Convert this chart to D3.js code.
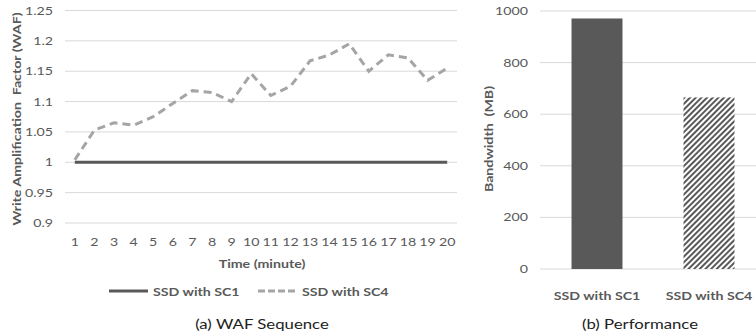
<!DOCTYPE html>
<html><head><meta charset="utf-8">
<script src="https://cdn.jsdelivr.net/npm/d3@7"></script>
<style>body{margin:0;background:#fff}svg{display:block}text{font-family:Lato,"Open Sans",sans-serif;white-space:pre}</style>
</head><body>
<svg id="c" width="756" height="336"></svg>
<script>
const minutes = [1,2,3,4,5,6,7,8,9,10,11,12,13,14,15,16,17,18,19,20];
const wafSC1 = [1,1,1,1,1,1,1,1,1,1,1,1,1,1,1,1,1,1,1,1];
const wafSC4 = [1.004,1.053,1.065,1.061,1.075,1.097,1.118,1.115,1.100,1.146,1.110,1.125,1.167,1.177,1.195,1.150,1.177,1.172,1.135,1.155];
const wafTicks = [0.9,0.95,1,1.05,1.1,1.15,1.2,1.25];
const perfCats = ["SSD with SC1","SSD with SC4"];
const perfVals = [971,665];
const perfTicks = [0,200,400,600,800,1000];
const seriesNames = ["SSD with SC1","SSD with SC4"];

const svg = d3.select("#c");
const grid = "#d9d9d9", tickCol = "#595959", dark = "#595959", light = "#a5a5a5";
const SX = 1.29;

function txt(g, x, y, s, o) {
  o = o || {};
  const t = g.append("text")
    .attr("transform", `translate(${x},${y})` + (o.rot ? ` rotate(${o.rot})` : "") + ` scale(${o.sx || SX},1)`)
    .attr("text-anchor", o.anchor || "start")
    .attr("font-size", o.size || 11)
    .attr("fill", o.fill || tickCol)
    .text(s);
  if (o.bold) t.attr("font-weight", "bold");
  if (o.family) t.attr("font-family", o.family);
  return t;
}

// hatch pattern
const defs = svg.append("defs");
const pat = defs.append("pattern").attr("id","hatch").attr("patternUnits","userSpaceOnUse")
  .attr("width",4).attr("height",4).attr("patternTransform","rotate(45)");
pat.append("rect").attr("width",4).attr("height",4).attr("fill","#fff");
pat.append("rect").attr("width",2).attr("height",4).attr("fill",dark);

// ---------- Left chart ----------
const x = d3.scaleBand().domain(minutes).range([65,457]);
const y = d3.scaleLinear().domain([0.9,1.25]).range([223,10.5]);
const L = svg.append("g");
L.selectAll("line.g").data(wafTicks).join("line")
  .attr("x1",65).attr("x2",457).attr("y1",d=>y(d)).attr("y2",d=>y(d))
  .attr("stroke",grid).attr("stroke-width",1);
wafTicks.forEach(d => txt(L, 53, y(d)+4, d3.format("")(d), {anchor:"end"}));
minutes.forEach(d => txt(L, x(d)+x.bandwidth()/2, 246, d, {anchor:"middle"}));
const line = d3.line().x((d,i)=>x(minutes[i])+x.bandwidth()/2).y(d=>y(d));
L.append("path").datum(wafSC1).attr("d",line).attr("fill","none")
  .attr("stroke",dark).attr("stroke-width",3);
L.append("path").datum(wafSC4).attr("d",line).attr("fill","none")
  .attr("stroke",light).attr("stroke-width",3).attr("stroke-dasharray","8,5");
txt(L, 262, 268, "Time (minute)", {anchor:"middle", bold:true});
txt(L, 20.5, 119, "Write Amplification  Factor (WAF)", {anchor:"middle", bold:true, rot:-90});
// legend
const leg = [{x:109,c:dark,dash:null},{x:258,c:light,dash:"7,3"}];
leg.forEach((l,i)=>{
  L.append("line").attr("x1",l.x).attr("x2",l.x+39).attr("y1",291).attr("y2",291)
   .attr("stroke",l.c).attr("stroke-width",3).attr("stroke-dasharray",l.dash);
  txt(L, l.x+44, 295.5, seriesNames[i], {bold:true});
});
txt(svg, 262, 329, "(a) WAF Sequence", {anchor:"middle", size:13, fill:"#222", family:"Liberation Sans, Arial, sans-serif"});

// ---------- Right chart ----------
const xb = d3.scaleBand().domain(perfCats).range([541,765]).paddingInner(0.545).paddingOuter(0.2725);
const yb = d3.scaleLinear().domain([0,1000]).range([269,11]);
const R = svg.append("g");
R.selectAll("line.g").data(perfTicks).join("line")
  .attr("x1",540).attr("x2",756).attr("y1",d=>yb(d)).attr("y2",d=>yb(d))
  .attr("stroke",grid).attr("stroke-width",1);
perfTicks.forEach(d => txt(R, 528, yb(d)+4, d, {anchor:"end"}));
R.selectAll("rect.b").data(perfVals).join("rect")
  .attr("x",(d,i)=>xb(perfCats[i])).attr("width",xb.bandwidth())
  .attr("y",d=>yb(d)).attr("height",d=>yb(0)-yb(d))
  .attr("fill",(d,i)=>i===0?dark:"url(#hatch)");
perfCats.forEach(d => txt(R, xb(d)+xb.bandwidth()/2, 300, d, {anchor:"middle", bold:true}));
txt(R, 492.5, 139, "Bandwidth  (MB)", {anchor:"middle", bold:true, rot:-90});
txt(svg, 640, 329, "(b) Performance", {anchor:"middle", size:13, fill:"#222", family:"Liberation Sans, Arial, sans-serif"});
</script>
</body></html>
